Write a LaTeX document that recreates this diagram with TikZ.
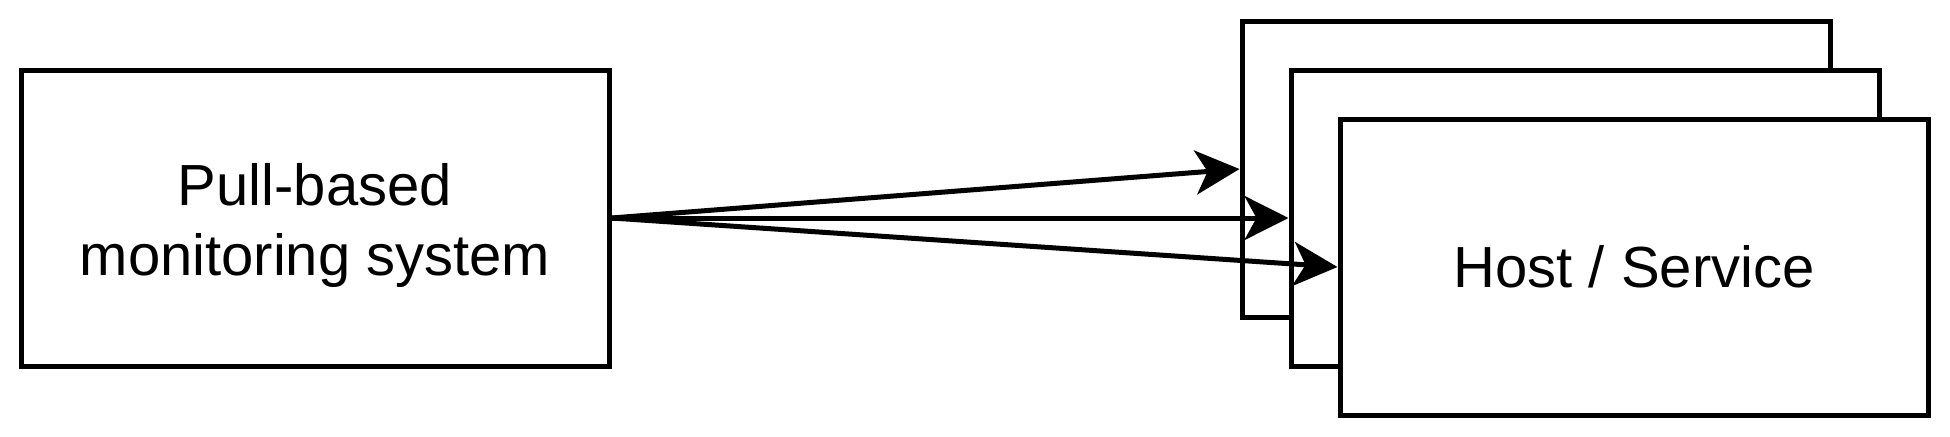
\documentclass[tikz,border=0pt]{standalone}
\usepackage{fontspec}
\setmainfont{Liberation Sans}
\usetikzlibrary{arrows.meta,calc}
\begin{document}
\begin{tikzpicture}[x=1pt,y=1pt,
  boxnode/.style={draw=black, fill=white, line width=2.5pt, minimum width=294pt, minimum height=148pt, inner sep=0pt, align=center, font=\fontsize{29}{35}\selectfont},
  lbl/.style={inner sep=0pt, align=center, font=\fontsize{29}{35}\selectfont},
  conn/.style={line width=2.5pt, -{Stealth[length=22pt,width=22pt,inset=6pt]}}]
\useasboundingbox (0,0) rectangle (975,218);
\node[boxnode] (mon) at (157.5,109) {};
\node[lbl] (monlbl) at ($(mon.center)+(0,-3.6)$) {Pull-based\\monitoring system};
\node[boxnode] (h1) at (768,133.5) {};
\node[boxnode] (h2) at (792.5,109) {};
\node[boxnode] (h3) at (817,84.5) {Host / Service};
\draw[conn] (mon.east) -- (h1.west);
\draw[conn] (mon.east) -- (h2.west);
\draw[conn] (mon.east) -- (h3.west);
\end{tikzpicture}
\end{document}
